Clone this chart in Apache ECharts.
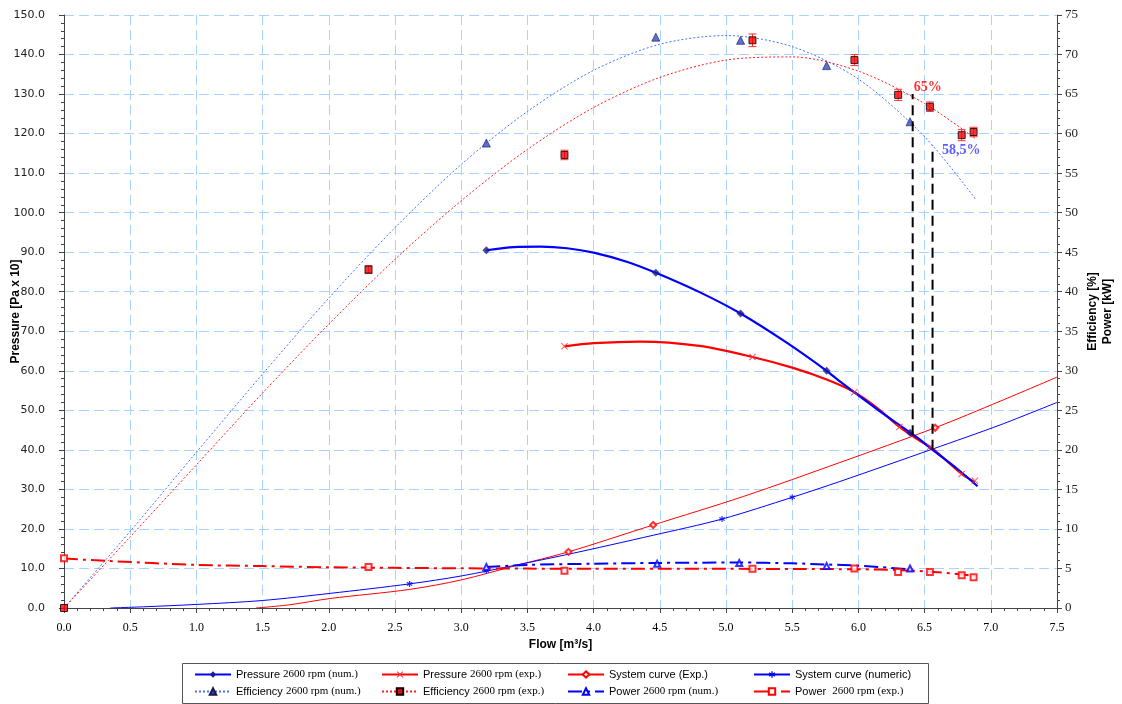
<!DOCTYPE html>
<html>
<head>
<meta charset="utf-8">
<script src="https://cdn.jsdelivr.net/npm/echarts@6/dist/echarts.min.js"></script>
<style>
  html, body { margin: 0; padding: 0; background: #fff; }
  #chart { width: 1122px; height: 704px; }
</style>
</head>
<body>
<div id="chart"></div>
<script>
// ---- data (flow in m3/s) ----
// pressure, Pa x 10 (left axis)
const pressNumCurve = [[3.19, 90.5], [3.4, 91.3], [3.6, 91.4], [3.8, 91.0], [4.0, 89.9], [4.25, 87.6], [4.47, 84.8], [4.8, 79.9], [5.11, 74.5], [5.45, 67.3], [5.76, 60.0], [5.86, 57.3], [6.16, 49.8], [6.44, 43.2], [6.56, 40.0], [6.75, 35.1], [6.9, 30.8]];
const pressNumMarks = [[3.19, 90.5], [4.47, 84.8], [5.11, 74.5], [5.76, 60.0], [6.39, 44.3]];
const pressExpCurve = [[3.78, 66.2], [4.0, 67.0], [4.35, 67.4], [4.8, 66.3], [5.2, 63.5], [5.5, 60.8], [5.76, 57.8], [5.97, 54.6], [6.15, 50.4], [6.31, 45.8], [6.45, 42.6], [6.56, 40.3], [6.78, 33.9], [6.88, 31.8]];
const pressExpMarks = [[3.78, 66.2], [5.2, 63.5], [5.97, 54.6], [6.31, 45.8], [6.54, 40.7], [6.78, 33.9], [6.88, 32.2]];
const sysExpCurve = [[1.45, 0], [1.7, 0.8], [2.01, 2.4], [2.61, 4.7], [3.0, 7.1], [3.42, 10.8], [3.81, 14.2], [4.45, 21.0], [5.13, 28.2], [5.86, 36.8], [6.58, 45.6], [7.07, 52.3], [7.5, 58.4]];
const sysExpMarks = [[3.81, 14.2], [4.45, 21.0], [6.58, 45.6]];
const sysNumCurve = [[0.35, 0], [0.6, 0.3], [1.0, 0.9], [1.5, 1.9], [2.01, 3.7], [2.61, 6.1], [3.0, 8.1], [3.42, 10.9], [3.81, 13.6], [4.45, 18.4], [4.97, 22.5], [5.5, 28.0], [5.86, 32.0], [6.56, 40.2], [7.07, 46.3], [7.5, 52.0]];
const sysNumMarks = [[2.61, 6.1], [3.19, 9.4], [4.97, 22.5], [5.5, 28.0]];

// efficiency, % (right axis)
const effNumCurve = [[0, 0], [0.5, 9.7], [1.0, 19.7], [1.5, 29.6], [2.0, 39.2], [2.5, 48.1], [3.0, 56.1], [3.5, 62.8], [4.0, 68.0], [4.5, 71.3], [5.0, 72.4], [5.5, 71.0], [6.0, 66.9], [6.5, 59.6], [6.89, 51.6]];
const effNumMarks = [[3.19, 58.8], [4.47, 72.2], [5.11, 71.8], [5.76, 68.6], [6.39, 61.5]];
const effExpCurve = [[0, 0], [0.5, 9.0], [1.0, 18.1], [1.5, 27.2], [2.0, 35.9], [2.5, 44.1], [3.0, 51.5], [3.5, 58.0], [4.0, 63.3], [4.5, 67.1], [5.0, 69.3], [5.5, 69.7], [6.0, 67.9], [6.5, 63.8], [6.88, 59.4]];
const effExpMarks = [[0, 0], [2.3, 42.8], [3.78, 57.3], [5.2, 71.8], [5.97, 69.3], [6.3, 64.9], [6.54, 63.4], [6.78, 59.8], [6.87, 60.2]];
const effExpErr = [0, 0.5, 0.6, 0.8, 0.7, 0.7, 0.6, 0.7, 0.6];

// power, kW (right axis)
const powNumCurve = [[3.19, 5.2], [3.5, 5.45], [4.0, 5.6], [4.48, 5.7], [5.1, 5.75], [5.5, 5.65], [5.76, 5.5], [6.0, 5.35], [6.39, 4.9]];
const powNumMarks = [[3.19, 5.2], [4.48, 5.6], [5.1, 5.7], [5.76, 5.3], [6.39, 5.0]];
const powExpCurve = [[0, 6.25], [0.33, 5.95], [1.0, 5.45], [1.5, 5.3], [2.0, 5.15], [2.5, 5.08], [3.0, 5.02], [3.5, 4.98], [4.0, 4.95], [4.5, 4.95], [5.0, 4.95], [5.5, 4.93], [6.0, 4.9], [6.3, 4.8], [6.54, 4.6], [6.78, 4.25], [6.88, 4.0]];
const powExpMarks = [[0, 6.3], [2.3, 5.2], [3.78, 4.7], [5.2, 4.95], [5.97, 5.0], [6.3, 4.55], [6.54, 4.55], [6.78, 4.15], [6.87, 3.9]];

// operating points (left axis units), with their efficiency labels
const opExpLine = [[6.41, 43.7], [6.41, 130]];
const opNumLine = [[6.56, 40.0], [6.56, 117]];
const opLabels = ['65%', '58,5%'];

const legendCols = [
  ['Pressure 2600 rpm (num.)', 'Efficiency 2600 rpm (num.)'],
  ['Pressure 2600 rpm (exp.)', 'Efficiency 2600 rpm (exp.)'],
  ['System curve (Exp.)', 'Power 2600 rpm (num.)'],
  ['System curve (numeric)', 'Power  2600 rpm (exp.)']
];
const legendLefts = [194, 381, 567, 753];

const BLUE = '#0000ff';
const RED = '#ff0000';
const X_PATH = 'path://M0,1L1,0L5,4L9,0L10,1L6,5L10,9L9,10L5,6L1,10L0,9L4,5Z';
const STAR_PATH = 'path://M4,0H6V3.3L8.9,1.6L9.9,3.3L7,5L9.9,6.7L8.9,8.4L6,6.7V10H4V6.7L1.1,8.4L0.1,6.7L3,5L0.1,3.3L1.1,1.6L4,3.3Z';

// a curve plus its markers share one legend entry
function pair(name, curve, marks, opt) {
  const line = {
    name, type: 'line', data: curve, yAxisIndex: opt.axis || 0,
    smooth: 0.3, showSymbol: false, symbol: opt.symbol, symbolSize: opt.size || 7,
    lineStyle: { color: opt.color, width: opt.width, type: opt.dash || 'solid' },
    itemStyle: opt.item, emphasis: { disabled: true }, z: opt.z || 3
  };
  const dots = {
    name, type: 'scatter', data: marks, yAxisIndex: opt.axis || 0,
    symbol: opt.symbol, symbolSize: opt.size || 7,
    itemStyle: opt.item, emphasis: { disabled: true }, z: (opt.z || 3) + 1
  };
  return [line, dots];
}

const series = [].concat(
  pair('Pressure 2600 rpm (num.)', pressNumCurve, pressNumMarks,
    { color: BLUE, width: 2.2, symbol: 'diamond', size: 8, item: { color: '#1a1a8c' }, z: 6 }),
  pair('Pressure 2600 rpm (exp.)', pressExpCurve, pressExpMarks,
    { color: RED, width: 2.2, symbol: X_PATH, size: 7, item: { color: '#ff3333' }, z: 5 }),
  pair('System curve (Exp.)', sysExpCurve, sysExpMarks,
    { color: RED, width: 1, symbol: 'emptyDiamond', size: 6, item: { color: RED } }),
  pair('System curve (numeric)', sysNumCurve, sysNumMarks,
    { color: BLUE, width: 1, symbol: STAR_PATH, size: 6, item: { color: BLUE } }),
  pair('Efficiency 2600 rpm (num.)', effNumCurve, effNumMarks,
    { axis: 1, color: '#4a74ff', width: 1, dash: [2, 2], symbol: 'triangle', size: 8,
      item: { color: '#2f4fd0', borderColor: '#1a1a40', borderWidth: 0.8 } }),
  pair('Efficiency 2600 rpm (exp.)', effExpCurve, effExpMarks,
    { axis: 1, color: '#ff2020', width: 1, dash: [2, 2], symbol: 'rect', size: 7,
      item: { color: RED, borderColor: '#000', borderWidth: 1 }, z: 7 }),
  pair('Power 2600 rpm (num.)', powNumCurve, powNumMarks,
    { axis: 1, color: BLUE, width: 2, dash: [14, 5, 3, 5], symbol: 'emptyTriangle', size: 6, item: { color: BLUE } }),
  pair('Power  2600 rpm (exp.)', powExpCurve, powExpMarks,
    { axis: 1, color: RED, width: 2, dash: [14, 5, 3, 5], symbol: 'emptyRect', size: 6, item: { color: RED } })
);

// error bars on the measured efficiency
series.push({
  type: 'custom', yAxisIndex: 1, silent: true, z: 6,
  data: effExpMarks.map((p, i) => [p[0], p[1], effExpErr[i]]),
  encode: { x: 0, y: 1 },
  renderItem(params, api) {
    const x = api.value(0), y = api.value(1), e = api.value(2);
    if (!e) return null;
    const lo = api.coord([x, y - e]);
    const hi = api.coord([x, y + e]);
    const st = { stroke: '#ff3030', lineWidth: 1 };
    return {
      type: 'group', children: [
        { type: 'line', shape: { x1: lo[0], y1: lo[1], x2: hi[0], y2: hi[1] }, style: st },
        { type: 'line', shape: { x1: lo[0] - 4, y1: lo[1], x2: lo[0] + 4, y2: lo[1] }, style: st },
        { type: 'line', shape: { x1: hi[0] - 4, y1: hi[1], x2: hi[0] + 4, y2: hi[1] }, style: st }
      ]
    };
  }
});

// operating point markers: black dashed verticals with efficiency labels
[[opExpLine, opLabels[0], RED, 'top', [15, 6]], [opNumLine, opLabels[1], '#3333ff', 'right', [4, 5]]].forEach(([pts, txt, col, pos, off]) => {
  series.push({
    type: 'line', silent: true, z: 8, symbol: 'none',
    lineStyle: { color: '#000', width: 2, type: [10, 6] },
    data: pts
  });
  series.push({
    type: 'scatter', silent: true, z: 9, symbolSize: 1,
    itemStyle: { color: 'rgba(0,0,0,0)' },
    data: [pts[1]],
    label: { show: true, formatter: txt, position: pos, offset: off, color: col,
      fontFamily: 'Liberation Serif', fontWeight: 'bold', fontSize: 14 }
  });
});

function legendText(name) {
  const i = name.indexOf('2600');
  if (i < 0) return '{a|' + name + '}';
  return '{a|' + name.slice(0, i) + '}{b|' + name.slice(i) + '}';
}

const legends = legendCols.map((col, i) => ({
  data: col, orient: 'vertical', left: legendLefts[i], top: 669, padding: 0,
  itemWidth: 36, itemHeight: 8, itemGap: 6, selectedMode: false,
  formatter: legendText,
  textStyle: {
    rich: {
      a: { fontFamily: 'Liberation Sans', fontSize: 11, color: '#000' },
      b: { fontFamily: 'Liberation Serif', fontSize: 11, color: '#000' }
    }
  }
}));

const chart = echarts.init(document.getElementById('chart'));
chart.setOption({
  animation: false,
  backgroundColor: '#fff',
  grid: { left: 64, right: 65, top: 15, bottom: 96, containLabel: false, outerBoundsMode: 'none' },
  legend: legends,
  graphic: [{
    type: 'rect', left: 182, top: 663, z: -1,
    shape: { width: 746, height: 40 },
    style: { fill: '#fff', stroke: '#555', lineWidth: 1 }
  }],
  xAxis: {
    type: 'value', min: 0, max: 7.5, interval: 0.5,
    name: 'Flow [m³/s]', nameLocation: 'middle', nameGap: 6,
    nameTextStyle: { fontFamily: 'Liberation Sans', fontWeight: 'bold', fontSize: 12, color: '#000' },
    axisLine: { lineStyle: { color: '#444' } },
    axisTick: { length: 5, lineStyle: { color: '#444' } },
    minorTick: { show: true, splitNumber: 5, length: 3, lineStyle: { color: '#444' } },
    axisLabel: { margin: 14, formatter: v => v.toFixed(1), fontFamily: 'Liberation Serif', fontSize: 12, color: '#000' },
    splitLine: { show: true, lineStyle: { color: '#a8d2ff', width: 1, type: [10, 5] } }
  },
  yAxis: [{
    type: 'value', min: 0, max: 150, interval: 10,
    name: 'Pressure [Pa x 10]', nameLocation: 'middle', nameGap: 42, nameMoveOverlap: false,
    nameTextStyle: { fontFamily: 'Liberation Sans', fontWeight: 'bold', fontSize: 12, color: '#000' },
    axisLine: { show: true, lineStyle: { color: '#444' } },
    axisTick: { show: true, length: 5, lineStyle: { color: '#444' } },
    minorTick: { show: true, splitNumber: 5, length: 3, lineStyle: { color: '#444' } },
    axisLabel: { margin: 19, formatter: v => v.toFixed(1), fontFamily: 'DejaVu Sans', fontSize: 11, color: '#222' },
    splitLine: { show: true, lineStyle: { color: '#a8d2ff', width: 1, type: [10, 5] } }
  }, {
    type: 'value', min: 0, max: 75, interval: 5, position: 'right',
    name: 'Efficiency [%]\nPower [kW]', nameLocation: 'middle', nameGap: 28, nameRotate: 90, nameMoveOverlap: false,
    nameTextStyle: { fontFamily: 'Liberation Sans', fontWeight: 'bold', fontSize: 12, color: '#000', lineHeight: 15 },
    axisLine: { show: true, lineStyle: { color: '#444' } },
    axisTick: { show: true, length: 5, lineStyle: { color: '#444' } },
    minorTick: { show: true, splitNumber: 5, length: 3, lineStyle: { color: '#444' } },
    axisLabel: { margin: 8, fontFamily: 'Liberation Serif', fontSize: 13, color: '#222' },
    splitLine: { show: false }
  }],
  series
});
</script>
</body>
</html>
